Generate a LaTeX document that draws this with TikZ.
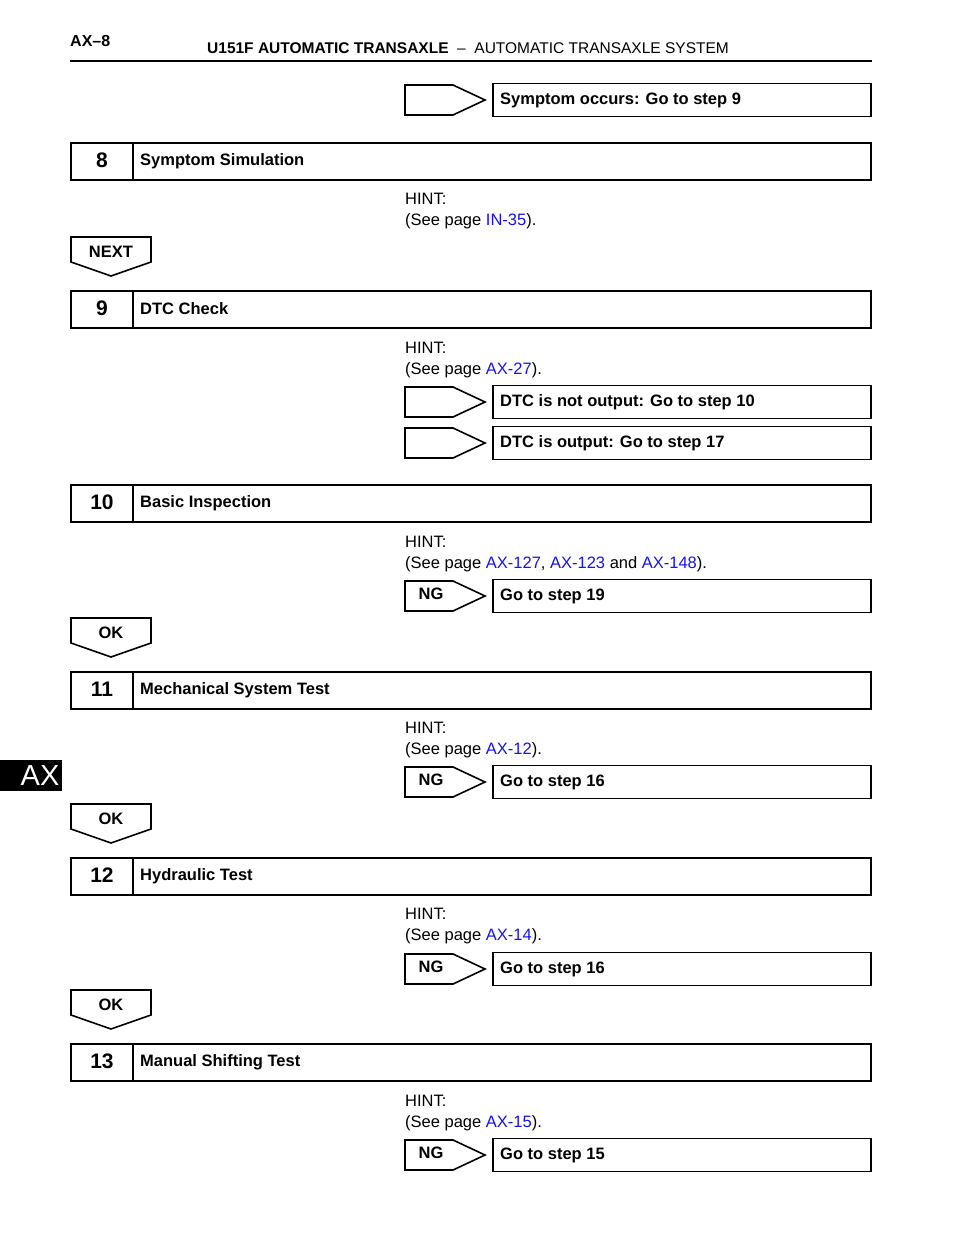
\documentclass[tikz,border=0pt]{standalone}
\usepackage{fontspec}
\setmainfont{Liberation Sans}
\definecolor{linkblue}{RGB}{20,20,235}
\tikzset{
    title/.style = {font = \fontsize{16.5}{19}\selectfont\bfseries, anchor = west, inner sep = 0pt},
    hint/.style = {font = \fontsize{16.5}{20.5}\selectfont, anchor = west, inner sep = 0pt, align = left},
    tag/.style = {font = \fontsize{16.5}{19}\selectfont\bfseries, inner sep = 0pt},
    link/.style = {text = linkblue}
}
\newcommand{\stepbox}[3]{% y, number, title
    \draw [line width = 2pt] (71, #1-18.5) rectangle (871, #1+18.5) (133, #1-18.5) -- (133, #1+18.5);
    \node [tag, font = \fontsize{21}{23}\selectfont\bfseries] (num#2) at (102, #1-1) {#2};
    \node [title] (title#2) at (140, #1) {#3};
}
\newcommand{\result}[4]{% y, name, tag text, result text
    \draw [line width = 1.6pt] (405, #1-15) -- (453, #1-15) -- (485, #1) -- (453, #1+15) -- (405, #1+15) -- cycle;
    \node [tag] (tag#2) at (431, #1-2) {#3};
    \draw [line width = 1.6pt] (493, #1-16.5) rectangle (871, #1+16.5);
    \node [title] (res#2) at (500, #1) {#4};
}
\newcommand{\okarrow}[3]{% top y, name, text
    \draw [line width = 1.6pt] (71, #1) -- (151, #1) -- (151, #1+25) -- (111, #1+39) -- (71, #1+25) -- cycle;
    \node [tag] (#2) at (111, #1+15) {#3};
}
\begin{document}
\begin{tikzpicture}[x = 1pt, y = -1pt]
    \useasboundingbox (0, 0) rectangle (960, 1242);

    % page header
    \node [tag, anchor = west, font = \fontsize{16}{18}\selectfont\bfseries] (page) at (70, 41) {AX--8};
    \node [tag, anchor = west, font = \fontsize{15.5}{18}\selectfont] (head) at (207, 48)
        {\textbf{U151F AUTOMATIC TRANSAXLE} \ -- \ AUTOMATIC TRANSAXLE SYSTEM};
    \draw [line width = 2.4pt] (70, 61) -- (872, 61);

    % side tab
    \fill (0, 760) rectangle (62, 791);
    \node [tag, text = white, font = \fontsize{29}{31}\selectfont] (tab) at (40, 776) {AX};

    \result{100}{a}{}{Symptom occurs: Go to step 9}

    \stepbox{161}{8}{Symptom Simulation}
    \node [hint] (hint8) at (405, 211) {HINT:\\(See page \textcolor{linkblue}{IN-35}).};
    \okarrow{237}{next8}{NEXT}

    \stepbox{309}{9}{DTC Check}
    \node [hint] (hint9) at (405, 360) {HINT:\\(See page \textcolor{linkblue}{AX-27}).};
    \result{402}{b}{}{DTC is not output: Go to step 10}
    \result{443}{c}{}{DTC is output: Go to step 17}

    \stepbox{503}{10}{Basic Inspection}
    \node [hint] (hint10) at (405, 554) {HINT:\\(See page \textcolor{linkblue}{AX-127}, \textcolor{linkblue}{AX-123} and \textcolor{linkblue}{AX-148}).};
    \result{596}{d}{NG}{Go to step 19}
    \okarrow{618}{ok10}{OK}

    \stepbox{690}{11}{Mechanical System Test}
    \node [hint] (hint11) at (405, 740) {HINT:\\(See page \textcolor{linkblue}{AX-12}).};
    \result{782}{e}{NG}{Go to step 16}
    \okarrow{804}{ok11}{OK}

    \stepbox{876}{12}{Hydraulic Test}
    \node [hint] (hint12) at (405, 926) {HINT:\\(See page \textcolor{linkblue}{AX-14}).};
    \result{969}{f}{NG}{Go to step 16}
    \okarrow{990}{ok12}{OK}

    \stepbox{1062}{13}{Manual Shifting Test}
    \node [hint] (hint13) at (405, 1113) {HINT:\\(See page \textcolor{linkblue}{AX-15}).};
    \result{1155}{g}{NG}{Go to step 15}
\end{tikzpicture}
\end{document}
